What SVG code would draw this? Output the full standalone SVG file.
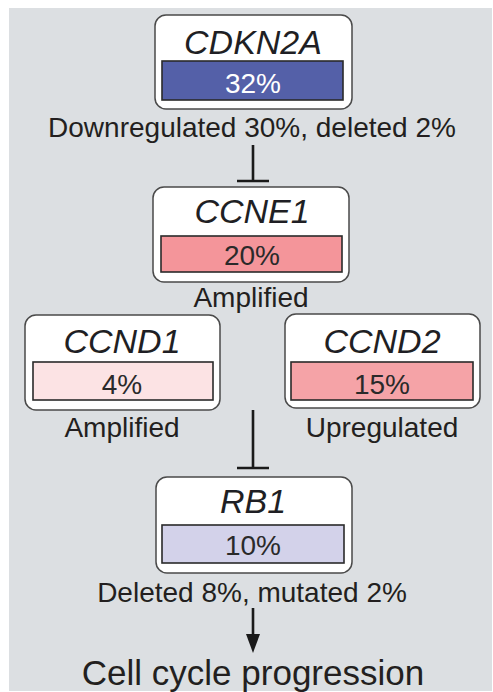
<svg xmlns="http://www.w3.org/2000/svg" width="493" height="692" viewBox="0 0 493 692">
  <style>
    .panel { fill: #dcdfe2; }
    .box { fill: #ffffff; stroke: #4a4a4a; stroke-width: 1.5; }
    .bar { stroke: #2a2a2a; stroke-width: 1.6; }
    .gene { font-family: "Liberation Sans", Arial, sans-serif; font-style: italic; font-size: 34px; fill: #1f1f24; text-anchor: middle; }
    .pct { font-family: "Liberation Sans", Arial, sans-serif; font-size: 28px; fill: #2a2a2a; text-anchor: middle; }
    .note { font-family: "Liberation Sans", Arial, sans-serif; font-size: 28px; fill: #231f20; text-anchor: middle; }
    .link { stroke: #1a1a1a; stroke-width: 2.6; fill: none; }
    .head { fill: #1a1a1a; }
  </style>

  <rect class="panel" x="9" y="8" width="483" height="683"/>

  <g id="node-cdkn2a">
    <rect class="box" x="155" y="15" width="197" height="94" rx="11"/>
    <rect class="bar" x="162" y="61" width="181" height="39" fill="#5460a8"/>
    <text class="gene" x="253" y="54">CDKN2A</text>
    <text class="pct" x="253" y="93" style="fill:#ffffff">32%</text>
    <text class="note" x="252" y="137">Downregulated 30%, deleted 2%</text>
  </g>

  <g id="node-ccne1">
    <rect class="box" x="153" y="187" width="196" height="95" rx="11"/>
    <rect class="bar" x="161" y="236" width="181" height="36" fill="#f4959a"/>
    <text class="gene" x="252" y="223">CCNE1</text>
    <text class="pct" x="252" y="265">20%</text>
    <text class="note" x="251" y="307">Amplified</text>
  </g>

  <g id="node-ccnd1">
    <rect class="box" x="25" y="315" width="195" height="95" rx="11"/>
    <rect class="bar" x="33" y="362" width="180" height="38" fill="#fce3e4"/>
    <text class="gene" x="122" y="353">CCND1</text>
    <text class="pct" x="122" y="394">4%</text>
    <text class="note" x="122" y="437">Amplified</text>
  </g>

  <g id="node-ccnd2">
    <rect class="box" x="285" y="314" width="195" height="94" rx="11"/>
    <rect class="bar" x="291" y="362" width="182" height="38" fill="#f5a3a7"/>
    <text class="gene" x="382" y="353">CCND2</text>
    <text class="pct" x="382" y="394">15%</text>
    <text class="note" x="382" y="437">Upregulated</text>
  </g>

  <g id="node-rb1">
    <rect class="box" x="156" y="477" width="196" height="96" rx="11"/>
    <rect class="bar" x="162" y="525" width="182" height="38" fill="#d3d2ea"/>
    <text class="gene" x="253" y="513">RB1</text>
    <text class="pct" x="253" y="555">10%</text>
    <text class="note" x="252" y="602">Deleted 8%, mutated 2%</text>
  </g>

  <g id="node-outcome">
    <text class="note" x="253" y="685" style="font-size:35px">Cell cycle progression</text>
  </g>

  <g id="connectors">
    <!-- inhibition bars -->
    <path class="link" d="M253,145 V181 M237,181 H269"/>
    <path class="link" d="M253,410 V468 M237,468 H269"/>
    <!-- activation arrow -->
    <path class="link" d="M253,608 V636"/>
    <path class="head" d="M246,634 L260,634 L253,653 Z"/>
  </g>
</svg>
